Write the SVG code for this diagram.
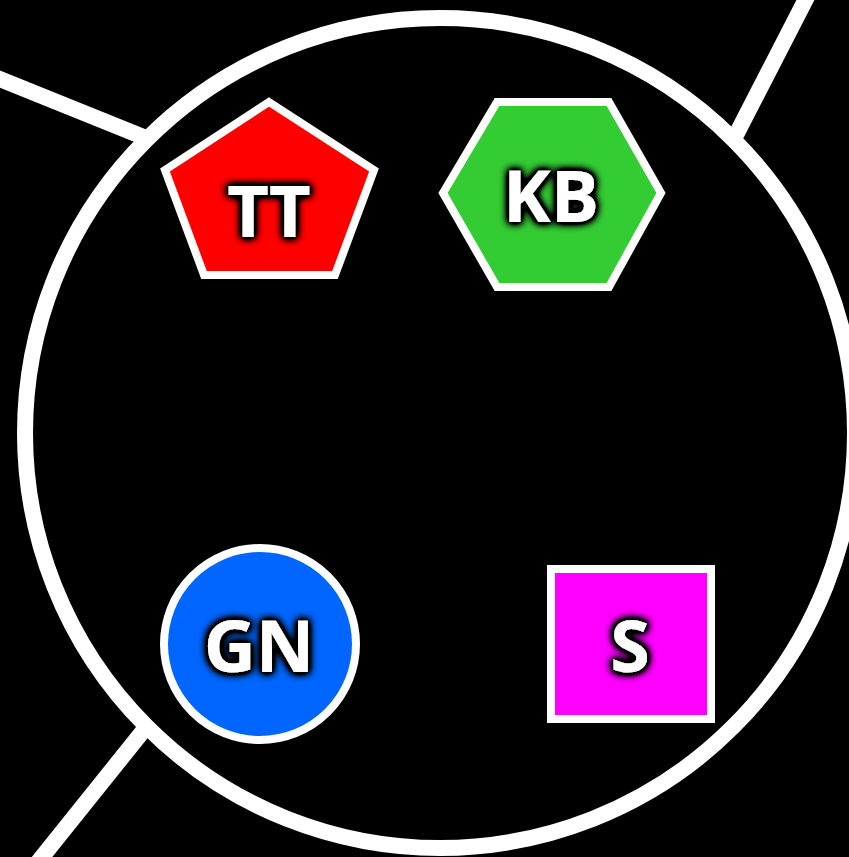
<svg xmlns="http://www.w3.org/2000/svg" width="849" height="857" viewBox="0 0 849 857">
<defs>
<filter id="glow" x="-30%" y="-30%" width="160%" height="160%">
<feMorphology in="SourceAlpha" operator="dilate" radius="1" result="d"/>
<feGaussianBlur in="d" stdDeviation="4" result="b"/>
<feComponentTransfer in="b" result="b2"><feFuncA type="linear" slope="2.6"/></feComponentTransfer>
<feMerge><feMergeNode in="b2"/><feMergeNode in="SourceGraphic"/></feMerge>
</filter>
<style>
.edge{stroke:#fff;stroke-width:16;fill:none}
.shape{stroke:#fff;stroke-width:8}
.lbl{font-family:"Open Sans","Liberation Sans",sans-serif;font-weight:bold;font-size:72px;fill:#fff;text-anchor:middle;filter:url(#glow)}
</style>
</defs>
<rect width="849" height="857" fill="#000"/>
<g id="connectors">
<line class="edge" x1="-5" y1="77" x2="300" y2="200"/>
<line class="edge" x1="808" y1="-5" x2="700" y2="205"/>
<line class="edge" x1="38" y1="862" x2="200" y2="660"/>
</g>
<g id="group">
<circle cx="440" cy="433" r="415" fill="#000" stroke="#fff" stroke-width="16"/>
</g>
<g id="TT">
<polygon class="shape" fill="#ff0000" points="269,102 374,170 335,275 204,275 165,170"/>
<text class="lbl" x="269" y="237">TT</text>
</g>
<g id="KB">
<polygon class="shape" fill="#33cc33" points="443,193 497,102 609,102 661,193 609,287 497,287"/>
<text class="lbl" x="551" y="222">KB</text>
</g>
<g id="GN">
<circle class="shape" fill="#0066ff" cx="260" cy="644" r="96"/>
<text class="lbl" x="259" y="672">GN</text>
</g>
<g id="S">
<rect class="shape" fill="#ff00ff" x="551" y="569" width="160" height="150"/>
<text class="lbl" x="630" y="672">S</text>
</g>
</svg>
